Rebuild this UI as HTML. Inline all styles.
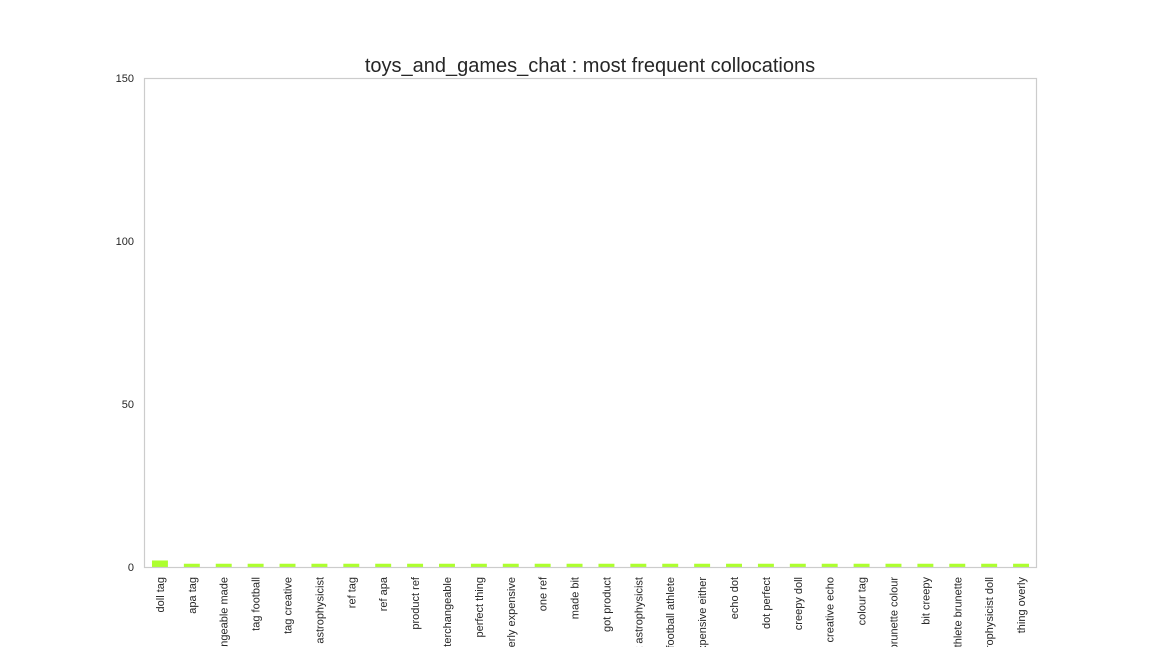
<!DOCTYPE html>
<html style="overflow:hidden;width:1152px;height:648px"><head><meta charset="utf-8"><style>
html,body{margin:0;background:#fff;overflow:hidden;width:1152px;height:648px}
svg{display:block;overflow:hidden;font-family:"Liberation Sans",Arial,sans-serif}
</style></head><body>
<svg id="chart" width="1152" height="648">
<defs><clipPath id="clipb"><rect x="0" y="0" width="1152" height="647"/></clipPath></defs>
<text x="590" y="72" text-anchor="middle" font-size="20" fill="#262626">toys_and_games_chat : most frequent collocations</text>
<g id="bars"></g><g id="yt"></g><g id="xt" clip-path="url(#clipb)"></g>
<rect x="144.5" y="78.5" width="892" height="489" fill="none" stroke="#cccccc" stroke-width="1.2"/>
</svg>
<script>
const categories=["doll tag","apa tag","interchangeable made","tag football","tag creative","tag    astrophysicist","ref tag","ref apa","product ref","ref interchangeable","perfect thing","overly expensive","one ref","made bit","got product","product astrophysicist","football athlete","expensive either","echo dot","dot perfect","creepy doll","creative echo","colour tag","brunette colour","bit creepy","athlete brunette","astrophysicist doll","thing overly"];
const values=[2,1,1,1,1,1,1,1,1,1,1,1,1,1,1,1,1,1,1,1,1,1,1,1,1,1,1,1];
const yTicks=[0,50,100,150];
const NS="http://www.w3.org/2000/svg";
const L=144,R=1037,T=78,B=567,yMax=150;
const y=v=>B-(v/yMax)*(B-T);
const step=(R-L)/categories.length;
const xc=i=>L+step*(i+0.5);
const bars=document.getElementById('bars'),yt=document.getElementById('yt'),xt=document.getElementById('xt');
values.forEach((v,i)=>{
 const r=document.createElementNS(NS,'rect');
 const w=step*0.5;
 r.setAttribute('x',xc(i)-w/2);r.setAttribute('y',y(v));
 r.setAttribute('width',w);r.setAttribute('height',B-y(v));
 r.setAttribute('fill','#adff2f');
 
 
 bars.appendChild(r);
});
yTicks.forEach(t=>{
 const tx=document.createElementNS(NS,'text');
 tx.setAttribute('x',134);tx.setAttribute('y',y(t)+4);
 tx.setAttribute('text-anchor','end');tx.setAttribute('font-size','11');tx.setAttribute('fill','#262626');
 tx.textContent=t;
 
 
 yt.appendChild(tx);
});
categories.forEach((c,i)=>{
 const tx=document.createElementNS(NS,'text');
 const x=xc(i)+4,yy=577;
 tx.setAttribute('transform','translate('+x+','+yy+') rotate(-90)');
 tx.setAttribute('text-anchor','end');tx.setAttribute('font-size','11');tx.setAttribute('fill','#262626');
 tx.setAttribute('xml:space','preserve');
 tx.textContent=c;
 
 
 xt.appendChild(tx);
});
</script>
</body></html>
